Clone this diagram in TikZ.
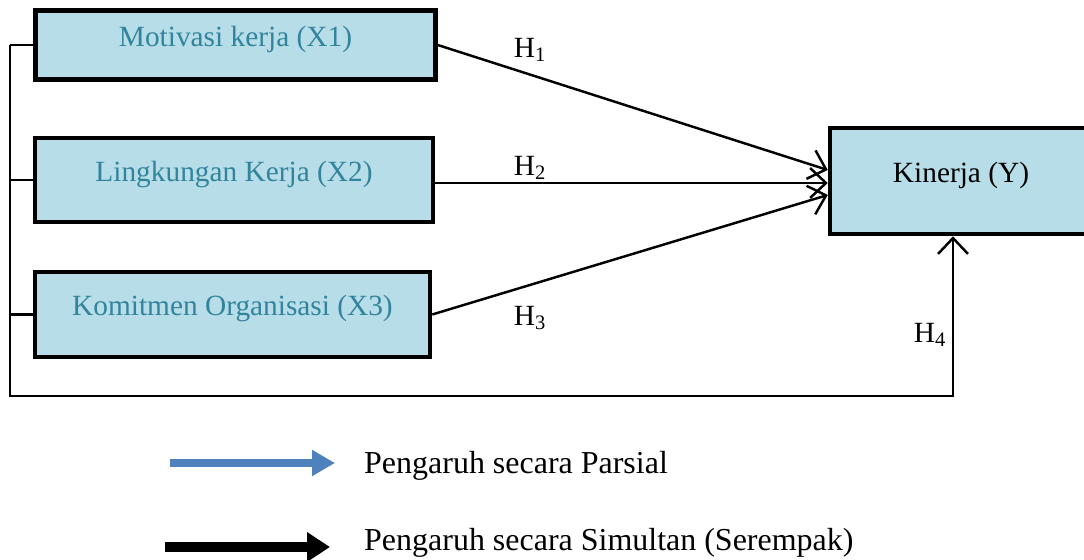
\documentclass[tikz,border=0pt]{standalone}
\usepackage{fontspec}
\setmainfont{Liberation Serif}
\usetikzlibrary{arrows.meta,calc,positioning}
\definecolor{boxfill}{HTML}{B7DDE8}
\definecolor{boxtext}{HTML}{31849B}
\definecolor{legendblue}{HTML}{4F81BD}

\begin{document}
\begin{tikzpicture}[x=0.02cm,y=-0.02cm]
\tikzstyle{every node}+=[font=\fontsize{16.7}{19}\selectfont]
\tikzstyle{var}=[draw=black,line width=2.6pt,fill=boxfill,text=boxtext,inner sep=0pt,text depth=0.35cm]
\tikzstyle{hyp}=[black,line width=1.4pt,-{Straight Barb[length=9pt,width=17pt,line width=1.4pt]}]
\tikzstyle{bus}=[black,line width=1.4pt]
\tikzstyle{ket}=[anchor=west,font=\fontsize{18.2}{21}\selectfont]
\useasboundingbox (0,0) rectangle (1084,560);
% variabel
\node [var,minimum width=8cm,minimum height=1.38cm] (x1) at (235.5,45) {Motivasi kerja (X1)};
\node [var,minimum width=7.96cm,minimum height=1.68cm] (x2) at (234,180) {Lingkungan Kerja (X2)};
\node [var,minimum width=7.9cm,minimum height=1.7cm] (x3) at (232.5,314.5) {Komitmen Organisasi (X3)};
\node [var,text=black,minimum width=5.24cm,minimum height=2.12cm] (y) at (961,181) {Kinerja (Y)};
% parsial
\draw [hyp] (x1.east) -- ($(y.west)+(0,-11)$);
\draw [hyp] ($(x2.east)+(0,3)$) -- ($(y.west)+(0,2)$);
\draw [hyp] (x3.east) -- ($(y.west)+(0,14)$);
\node (h1) at (530,50) {H\textsubscript{1}};
\node (h2) at (530,168) {H\textsubscript{2}};
\node (h3) at (530,318) {H\textsubscript{3}};
% simultan
\coordinate (bus) at (10,396);
\draw [bus] (x1.west) -- (x1.west -| bus);
\draw [bus] (x2.west) -- (x2.west -| bus);
\draw [bus] (x3.west) -- (x3.west -| bus);
\draw [hyp] (x1.west -| bus) -- (bus) -| ($(y.south)+(-8,0)$);
\node (h4) at (930,335) {H\textsubscript{4}};
% keterangan
\node [ket] (parsial) at (358,466) {Pengaruh secara Parsial};
\node [ket] (simultan) at (358,543) {Pengaruh secara Simultan (Serempak)};
\coordinate (lp) at (170,463);
\coordinate (ls) at (165,547);
\draw [legendblue,line width=4pt,-{Triangle[length=13pt,width=14pt]}] (lp) -- ($(parsial.west |- lp)+(-23,0)$);
\draw [black,line width=5.5pt,-{Triangle[length=13pt,width=16pt]}] (ls) -- ($(simultan.west |- ls)+(-28,0)$);
\end{tikzpicture}
\end{document}
